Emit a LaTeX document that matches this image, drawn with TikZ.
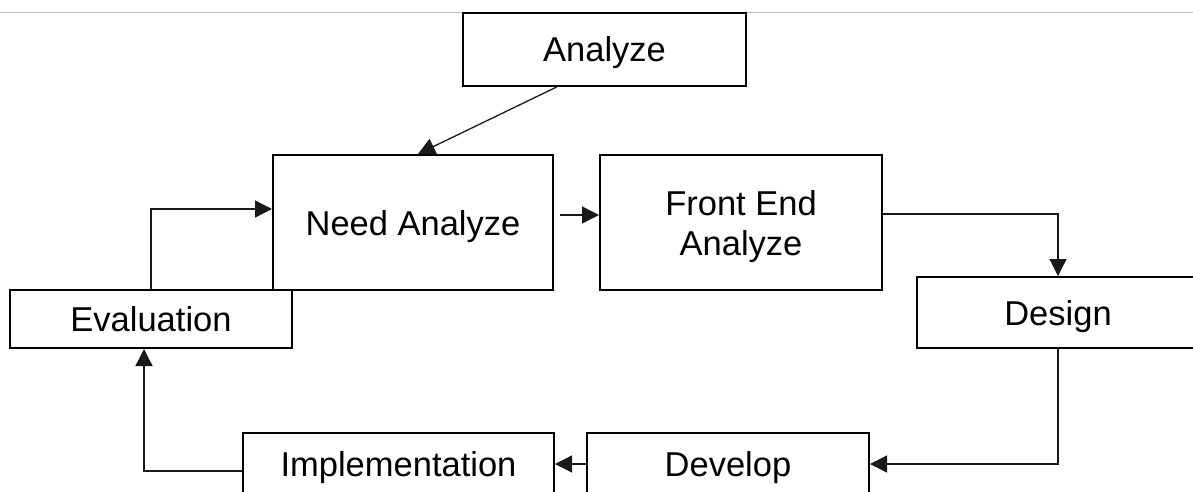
\documentclass[tikz,border=0pt]{standalone}
\usepackage{fontspec}
\setmainfont{Liberation Sans}
\usetikzlibrary{arrows.meta,calc}

\begin{document}
\begin{tikzpicture}[x=1pt,y=-1pt,
  box/.style={draw=black,line width=2pt,fill=white,inner sep=0pt,
    align=center,font=\fontsize{34.5}{40}\selectfont,
    text height=25pt,text depth=0pt},
  link/.style={draw=black!90,line width=1.3pt,
    -{Triangle[length=17pt,width=17pt]}}]
  \useasboundingbox (0,0) rectangle (1193,492);
  \clip (0,0) rectangle (1193,492);
  \fill[white] (0,0) rectangle (1193,492);

  % thin rule along the top edge
  \draw[black!25,line width=1pt] (0,12.5) -- (1193,12.5);

  % process steps
  \node[box,minimum width=283pt,minimum height=73pt] (an) at (604.5,49.5) {Analyze};
  \node[box,minimum width=280pt,minimum height=135pt] (na) at (413,222.5) {Need Analyze};
  \node[box,minimum width=282pt,minimum height=135pt,text height=65pt] (fe) at (741,222.5) {Front End\\Analyze};
  \node[box,minimum width=282pt,minimum height=71pt] (de) at (1058,312.5) {Design};
  \node[box,minimum width=282pt,minimum height=58pt] (ev) at (151,319) {Evaluation};
  \node[box,minimum width=311pt,minimum height=62pt] (im) at (398.5,464) {Implementation};
  \node[box,minimum width=282pt,minimum height=62pt] (dv) at (728,464) {Develop};

  % connectors
  \draw[link] ($(an.south west)!0.332!(an.south east)$) -- ($(na.north)+(5,0)$);
  \draw[link] ($(na.east)+(6,-7.5)$) -- ($(fe.west)+(0,-7.5)$);
  \draw[link] ($(fe.east)+(0,-8.5)$) -| (de.north);
  \draw[link] (de.south) |- (dv.east);
  \draw[link] (dv.west) -- (im.east);
  \draw[link] ($(im.west)+(0,7)$) -| ($(ev.south)+(-7,0)$);
  \draw[link] (ev.north) |- ($(na.west)+(0,-13.5)$);
\end{tikzpicture}
\end{document}
